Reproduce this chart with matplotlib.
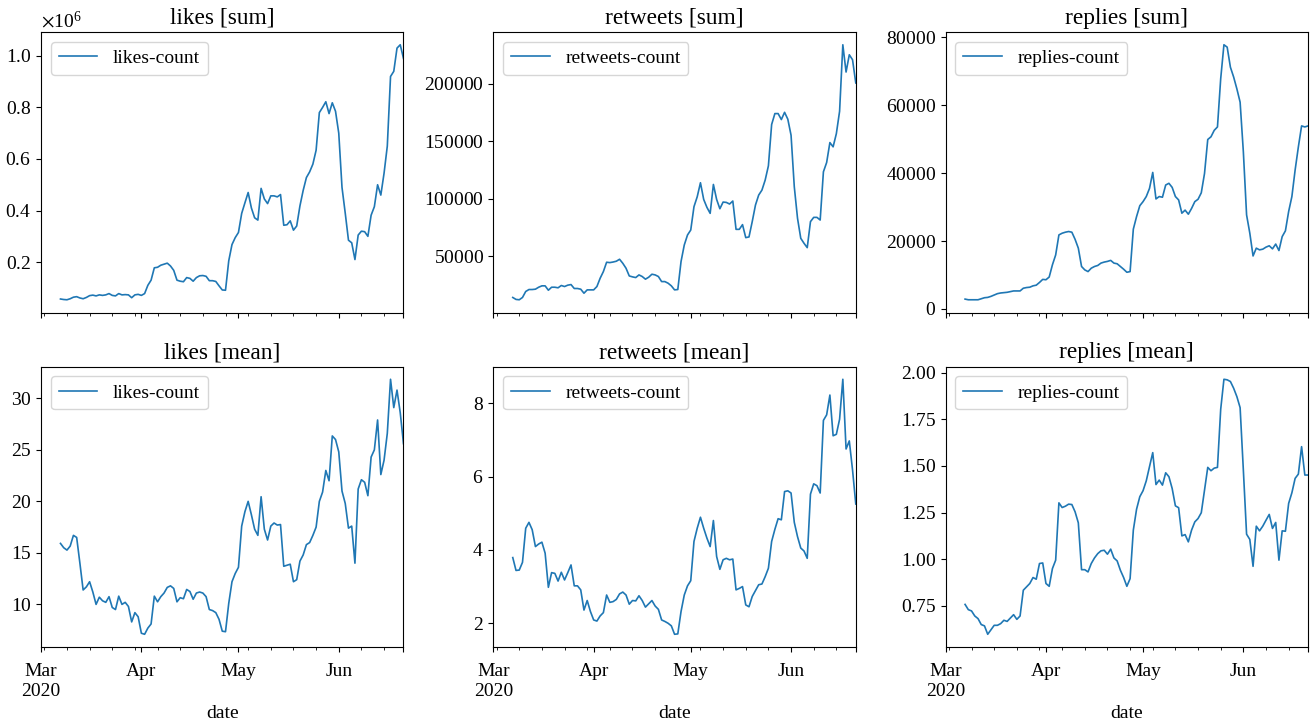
import numpy as np
import pandas as pd
import matplotlib
matplotlib.use('Agg')
import matplotlib.pyplot as plt

plt.rcParams['font.family'] = ['Liberation Serif', 'DejaVu Serif']
plt.rcParams['font.size'] = 14
plt.rcParams['axes.formatter.use_mathtext'] = True
plt.rcParams['mathtext.fontset'] = 'stix'
plt.rcParams['xtick.major.pad'] = 8

# 7-day rolling values, first valid day is Mar 7 (axis starts Mar 1)
first_day = '2020-03-07'
axis_start = '2020-03-01'
axis_end = '2020-06-21'

likes_sum = [
    57000, 55000, 54000, 58000, 64000, 66000, 61000, 58000, 63000, 70000,
    72000, 69000, 73000, 71000, 73000, 78000, 71000, 69000, 78000, 73000,
    74000, 73000, 62000, 73000, 75000, 71000, 78000, 110000, 130000, 178000,
    180000, 188000, 192000, 196000, 185000, 168000, 130000, 126000, 124000, 140000,
    137000, 126000, 140000, 147000, 148000, 145000, 128000, 128000, 125000, 108000,
    92000, 91000, 205000, 268000, 295000, 315000, 389000, 430000, 470000, 410000,
    372000, 363000, 486000, 445000, 427000, 457000, 457000, 453000, 462000, 343000,
    345000, 360000, 324000, 340000, 418000, 478000, 528000, 550000, 580000, 634000,
    780000, 800000, 822000, 776000, 818000, 785000, 700000, 490000, 390000, 285000,
    275000, 210000, 305000, 320000, 318000, 300000, 382000, 415000, 500000, 460000,
    545000, 650000, 920000, 940000, 1030000, 1043000, 990000,
]

retweets_sum = [
    14200, 12500, 12200, 14200, 19400, 21100, 21100, 21400, 23100, 24300,
    24300, 20500, 23100, 23100, 22600, 24600, 23700, 24900, 25400, 22000,
    22000, 21400, 17900, 20800, 20800, 20800, 23700, 30900, 36700, 44800,
    44500, 45000, 45700, 47400, 43900, 39600, 32900, 32100, 31500, 33800,
    32400, 30100, 31800, 34400, 33800, 32400, 28000, 28000, 26600, 24300,
    20800, 21100, 45400, 59800, 68500, 72800, 93100, 101700, 113900, 99400,
    92500, 87300, 112400, 99400, 91300, 97100, 96800, 95400, 98000, 73400,
    73400, 77500, 66200, 66800, 80100, 94500, 103200, 107500, 116200, 128600,
    164500, 174000, 174000, 168800, 175100, 169100, 155200, 110400, 83000, 65600,
    61300, 57500, 80100, 83800, 83800, 81500, 123400, 131500, 148800, 145100,
    156600, 176000, 233800, 210100, 225100, 220800, 200600,
]

replies_sum = [
    2900, 2700, 2700, 2700, 2700, 3000, 3300, 3400, 3700, 4100,
    4500, 4700, 4800, 4900, 5100, 5300, 5300, 5300, 6100, 6300,
    6400, 6800, 7000, 7800, 8700, 8600, 9400, 13000, 15900, 21800,
    22300, 22600, 22800, 22600, 20500, 17900, 12500, 11500, 11000, 12000,
    12500, 12800, 13500, 13800, 14000, 14300, 13500, 13300, 12500, 11700,
    10800, 11000, 23500, 27200, 30400, 31600, 33100, 35500, 40200, 32400,
    33100, 32900, 36500, 37000, 35800, 33100, 32100, 28200, 29100, 27900,
    29600, 31600, 32300, 34200, 39900, 49900, 50700, 52600, 53600, 67800,
    77800, 77100, 71200, 68300, 64800, 60900, 46300, 27700, 22300, 15600,
    17900, 17400, 17600, 18200, 18600, 17700, 19100, 17200, 21300, 23000,
    28700, 33100, 40900, 47700, 53900, 53600, 53900,
]

likes_mean = [
    15.92, 15.5, 15.27, 15.66, 16.7, 16.5, 14.0, 11.4, 11.7, 12.2,
    11.2, 10.0, 10.7, 10.35, 10.2, 10.75, 9.7, 9.5, 10.8, 10.0,
    10.2, 9.8, 8.3, 9.2, 8.8, 7.2, 7.1, 7.7, 8.1, 10.8,
    10.25, 10.75, 11.1, 11.65, 11.8, 11.55, 10.25, 10.65, 10.55, 11.45,
    11.25, 10.5, 11.1, 11.2, 11.1, 10.75, 9.5, 9.4, 9.2, 8.55,
    7.4, 7.35, 10.1, 12.2, 13.0, 13.6, 17.6, 19.0, 20.0, 18.7,
    17.3, 16.7, 20.45, 17.3, 16.25, 17.6, 17.9, 17.7, 17.75, 13.7,
    13.8, 13.9, 12.2, 12.4, 14.2, 14.8, 15.8, 16.0, 16.7, 17.5,
    20.0, 20.9, 23.0, 22.0, 26.35, 26.0, 24.8, 21.0, 19.8, 17.4,
    17.6, 14.0, 21.2, 22.1, 21.85, 20.55, 24.3, 25.0, 27.9, 22.6,
    24.0, 26.6, 31.85, 29.1, 30.8, 28.6, 25.6,
]

retweets_mean = [
    3.79, 3.44, 3.45, 3.66, 4.59, 4.75, 4.55, 4.09, 4.16, 4.21,
    3.91, 2.98, 3.38, 3.36, 3.15, 3.39, 3.18, 3.38, 3.59, 3.02,
    3.02, 2.91, 2.36, 2.62, 2.32, 2.09, 2.06, 2.2, 2.29, 2.77,
    2.57, 2.59, 2.65, 2.8, 2.85, 2.77, 2.52, 2.62, 2.61, 2.75,
    2.62, 2.44, 2.53, 2.62, 2.47, 2.38, 2.09, 2.05, 2.0, 1.93,
    1.7, 1.71, 2.32, 2.77, 3.02, 3.16, 4.23, 4.59, 4.89, 4.59,
    4.32, 4.09, 4.8, 3.82, 3.47, 3.73, 3.77, 3.73, 3.75, 2.91,
    2.95, 3.0, 2.5, 2.45, 2.73, 2.89, 3.05, 3.07, 3.27, 3.5,
    4.23, 4.56, 4.85, 4.82, 5.59, 5.61, 5.55, 4.75, 4.36, 4.05,
    3.97, 3.77, 5.52, 5.8, 5.75, 5.55, 7.53, 7.68, 8.22, 7.11,
    7.15, 7.56, 8.65, 6.75, 6.97, 6.18, 5.25,
]

replies_mean = [
    0.758, 0.73, 0.723, 0.696, 0.682, 0.65, 0.643, 0.598, 0.622, 0.646,
    0.646, 0.655, 0.673, 0.667, 0.685, 0.703, 0.678, 0.696, 0.834, 0.852,
    0.87, 0.902, 0.893, 0.977, 0.98, 0.87, 0.855, 0.95, 0.995, 1.302,
    1.277, 1.284, 1.295, 1.293, 1.254, 1.195, 0.944, 0.944, 0.932, 0.977,
    1.007, 1.03, 1.045, 1.048, 1.027, 1.054, 1.007, 0.991, 0.941, 0.902,
    0.855, 0.896, 1.156, 1.268, 1.335, 1.367, 1.42, 1.496, 1.571, 1.40,
    1.424, 1.397, 1.463, 1.442, 1.379, 1.286, 1.276, 1.125, 1.132, 1.093,
    1.156, 1.2, 1.218, 1.249, 1.37, 1.492, 1.474, 1.488, 1.492, 1.803,
    1.964, 1.961, 1.952, 1.916, 1.871, 1.812, 1.478, 1.134, 1.106, 0.962,
    1.177, 1.152, 1.177, 1.209, 1.24, 1.165, 1.197, 0.995, 1.152, 1.15,
    1.299, 1.356, 1.433, 1.456, 1.603, 1.451, 1.451,
]

panels = [
    ('likes [sum]', 'likes-count', likes_sum),
    ('retweets [sum]', 'retweets-count', retweets_sum),
    ('replies [sum]', 'replies-count', replies_sum),
    ('likes [mean]', 'likes-count', likes_mean),
    ('retweets [mean]', 'retweets-count', retweets_mean),
    ('replies [mean]', 'replies-count', replies_mean),
]

full_index = pd.date_range(axis_start, axis_end, freq='D', name='date')

fig, axes = plt.subplots(2, 3, figsize=(13.12, 7.21), dpi=100, sharex=True)
fig.subplots_adjust(left=0.0313, right=0.997, top=0.9556, bottom=0.1026,
                    wspace=0.248, hspace=0.1925)

for ax, (title, col, vals) in zip(axes.flat, panels):
    s = pd.Series(vals, index=pd.date_range(first_day, periods=len(vals), freq='D'))
    df = pd.DataFrame({col: s.reindex(full_index)})
    df.index.name = 'date'
    df.plot(ax=ax, color='#1f77b4', lw=1.2)
    ax.set_title(title)
    ax.legend(loc='upper left')

for ax in axes[0]:
    ax.set_xlabel('')
    ax.tick_params(axis='x', which='both', labelbottom=False)

fig.savefig('out.png', dpi=100)
